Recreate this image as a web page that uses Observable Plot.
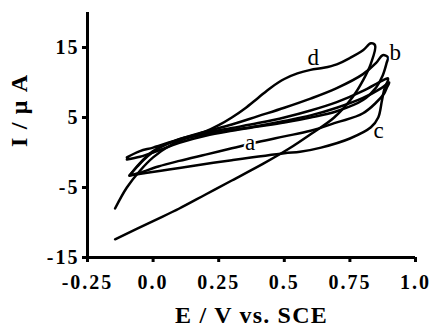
<!DOCTYPE html>
<html><head><meta charset="utf-8">
<script src="https://cdn.jsdelivr.net/npm/d3@7"></script>
<script src="https://cdn.jsdelivr.net/npm/@observablehq/plot@0.6"></script>
<style>
html,body{margin:0;padding:0;background:#fff;}
svg, svg text{font-family:"Liberation Serif","Times New Roman",serif !important;}
.tick-lbl text{letter-spacing:2px;}
.ax-title text{letter-spacing:1.2px;}
</style></head><body><div id="chart"></div>
<script>
// Cyclic voltammograms a–d (E in V vs. SCE, I in µA), forward scan then reverse scan
const curveNames = ["a", "b", "c", "d"];

const aE = [-0.09,-0.05,0.0,0.05,0.1,0.2,0.3,0.4,0.5,0.6,0.7,0.8,0.87,0.9, 0.89,0.88,0.8,0.7,0.6,0.5,0.4,0.3,0.2,0.1,0.02,-0.05,-0.09];
const aI = [-3.3,-1.5,0.2,1.2,1.8,2.6,3.2,3.8,4.5,5.3,6.4,7.8,9.2,10.0, 9.2,8.4,5.6,4.3,3.1,2.3,1.5,0.6,-0.3,-1.2,-2.0,-2.9,-3.3];

const bE = [-0.1,-0.05,0.0,0.1,0.2,0.3,0.4,0.5,0.6,0.7,0.8,0.85,0.875,0.895, 0.89,0.875,0.85,0.8,0.7,0.6,0.5,0.4,0.3,0.2,0.1,0.0,-0.05,-0.1];
const bI = [-0.7,0.2,0.7,1.9,3.0,4.0,5.2,6.4,7.7,9.2,11.2,12.8,13.9,13.6, 12.8,11.0,9.3,7.5,5.9,5.0,4.3,3.7,3.1,2.4,1.4,0.0,-0.6,-1.0];

const cE = [-0.09,-0.06,-0.02,0.03,0.1,0.2,0.3,0.4,0.5,0.6,0.7,0.8,0.87,0.895, 0.895,0.883,0.872,0.858,0.83,0.75,0.64,0.56,0.5,0.3,0.1,0.03,-0.09];
const cI = [-3.3,-2.0,-0.5,0.8,1.9,2.8,3.5,4.2,5.0,6.0,7.2,8.8,10.2,10.6, 10.3,9.3,7.4,5.0,3.6,2.0,0.7,0.1,-0.1,-1.1,-2.2,-2.6,-3.3];

const dE = [-0.145,-0.10,-0.05,0.0,0.065,0.13,0.2,0.25,0.3,0.35,0.4,0.45,0.5,0.55,0.6,0.65,0.7,0.75,0.8,0.83,0.846, 0.83,0.80,0.76,0.69,0.6,0.52,0.42,0.3,0.2,0.1,0.0,-0.145];
const dI = [-8.0,-5.0,-2.6,-0.7,1.0,2.1,3.0,3.9,5.0,6.3,7.8,9.3,10.5,11.3,11.8,12.1,12.6,13.5,14.6,15.6,15.3, 12.7,10.3,7.9,5.0,2.6,0.6,-1.6,-4.0,-6.0,-8.0,-9.8,-12.4];

// Curve label anchor points (data units)
const labelE = [0.37, 0.923, 0.859, 0.61];
const labelI = [1.47, 14.3, 3.14, 13.6];

const xTicks = [-0.25, 0, 0.25, 0.5, 0.75, 1.0];
const xTickLabels = ["-0.25", "0.0", "0.25", "0.5", "0.75", "1.0"];
const yTicks = [15, 5, -5, -15];
const yTickLabels = ["15", "5", "-5", "-15"];

const xTitle = "E / V vs. SCE";
const yTitle = "I / \u03bc A";

const FONT = "Liberation Serif";
const series = {a: [aE, aI], b: [bE, bI], c: [cE, cI], d: [dE, dI]};
const rows = [];
for (const name of curveNames) {
  const [E, I] = series[name];
  E.forEach((e, i) => rows.push({curve: name, E: e, I: I[i], k: i}));
}
const labels = curveNames.map((n, i) => ({name: n, E: labelE[i], I: labelI[i]}));

const plot = Plot.plot({
  width: 432,
  height: 329,
  marginLeft: 87,
  marginRight: 17,
  marginTop: 12,
  marginBottom: 72,
  style: {fontFamily: FONT, background: "#fff", color: "#000"},
  x: {domain: [-0.25, 1.0]},
  y: {domain: [-15, 20]},
  marks: [
    Plot.line(rows, {x: "E", y: "I", z: "curve", stroke: "#000", strokeWidth: 2.5, curve: "catmull-rom", strokeLinejoin: "round", strokeLinecap: "round"}),
    Plot.text(labels, {x: "E", y: "I", text: "name", fontFamily: FONT, fontSize: 23, fill: "#000", stroke: "#fff", strokeWidth: 4}),
    Plot.ruleX([-0.25], {stroke: "#000", strokeWidth: 3}),
    Plot.ruleY([-15], {stroke: "#000", strokeWidth: 3}),
    Plot.axisX(xTicks, {tickSize: 5, tickPadding: 12, strokeWidth: 3, fontFamily: FONT, fontSize: 20, fontWeight: "bold", className: "tick-lbl",
      tickFormat: d => xTickLabels[xTicks.indexOf(d)], label: null}),
    Plot.axisY(yTicks, {tickSize: 5, tickPadding: 3, strokeWidth: 3, fontFamily: FONT, fontSize: 20, fontWeight: "bold", className: "tick-lbl",
      tickFormat: d => yTickLabels[yTicks.indexOf(d)], label: null}),
    Plot.text([xTitle], {frameAnchor: "bottom", lineAnchor: "middle", dy: 58, fontFamily: FONT, fontSize: 24, fontWeight: "bold", fill: "#000", className: "ax-title"}),
    Plot.text([yTitle], {frameAnchor: "left", lineAnchor: "middle", rotate: -90, dx: -68, dy: 12, fontFamily: FONT, fontSize: 24, fontWeight: "bold", fill: "#000", className: "ax-title"})
  ]
});
document.getElementById("chart").appendChild(plot);
</script></body></html>
